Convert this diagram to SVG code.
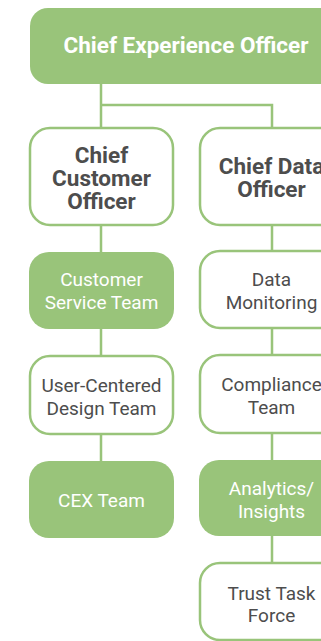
<svg xmlns="http://www.w3.org/2000/svg" width="321" height="641" viewBox="0 0 321 641">
<style>
.f{fill:#99c47a;stroke:none}
.o{fill:#fff;stroke:#99c47a;stroke-width:2.5}
.c{fill:none;stroke:#99c47a;stroke-width:2.5}
text{font-family:Roboto,"Open Sans",sans-serif;text-anchor:middle}
.b{font-weight:700;font-size:22.5px;fill:#4d4d4d}
.r{font-weight:400;font-size:19px;fill:#4d4d4d}
text.w{fill:#fff}
</style>
<rect width="321" height="641" fill="#fff"/>
<g id="connectors">
<path class="c" d="M101 84V128M101 105H272V128"/>
<path class="c" d="M101 225V252M101 329V356M101 434V461"/>
<path class="c" d="M272 225V251M272 328V355M272 433V460M272 536V563"/>
</g>
<g id="cxo">
<rect class="f" x="30" y="8" width="313" height="76" rx="18"/>
<text class="b w" x="186" y="53">Chief Experience Officer</text>
</g>
<g id="cco">
<rect class="o" x="30" y="128" width="143" height="97" rx="20"/>
<text class="b" x="101.5" y="163">Chief</text>
<text class="b" x="101.5" y="186">Customer</text>
<text class="b" x="101.5" y="209">Officer</text>
</g>
<g id="cdo">
<rect class="o" x="200" y="128" width="143" height="97" rx="20"/>
<text class="b" x="271.5" y="174">Chief Data</text>
<text class="b" x="271.5" y="197">Officer</text>
</g>
<g id="cst">
<rect class="f" x="29" y="252" width="145" height="77" rx="20"/>
<text class="r w" x="101.5" y="286">Customer</text>
<text class="r w" x="101.5" y="309">Service Team</text>
</g>
<g id="dm">
<rect class="o" x="200" y="251" width="143" height="77" rx="20"/>
<text class="r" x="271.5" y="286">Data</text>
<text class="r" x="271.5" y="309">Monitoring</text>
</g>
<g id="ucd">
<rect class="o" x="30" y="356" width="143" height="78" rx="20"/>
<text class="r" x="101.5" y="392">User-Centered</text>
<text class="r" x="101.5" y="415">Design Team</text>
</g>
<g id="ct">
<rect class="o" x="200" y="355" width="143" height="78" rx="20"/>
<text class="r" x="271.5" y="391">Compliance</text>
<text class="r" x="271.5" y="414">Team</text>
</g>
<g id="cex">
<rect class="f" x="29" y="461" width="145" height="77" rx="20"/>
<text class="r w" x="101.5" y="507">CEX Team</text>
</g>
<g id="ai">
<rect class="f" x="199" y="460" width="145" height="76" rx="20"/>
<text class="r w" x="271.5" y="495">Analytics/</text>
<text class="r w" x="271.5" y="518">Insights</text>
</g>
<g id="ttf">
<rect class="o" x="200" y="563" width="143" height="77" rx="20"/>
<text class="r" x="271.5" y="600">Trust Task</text>
<text class="r" x="271.5" y="622">Force</text>
</g>
</svg>
